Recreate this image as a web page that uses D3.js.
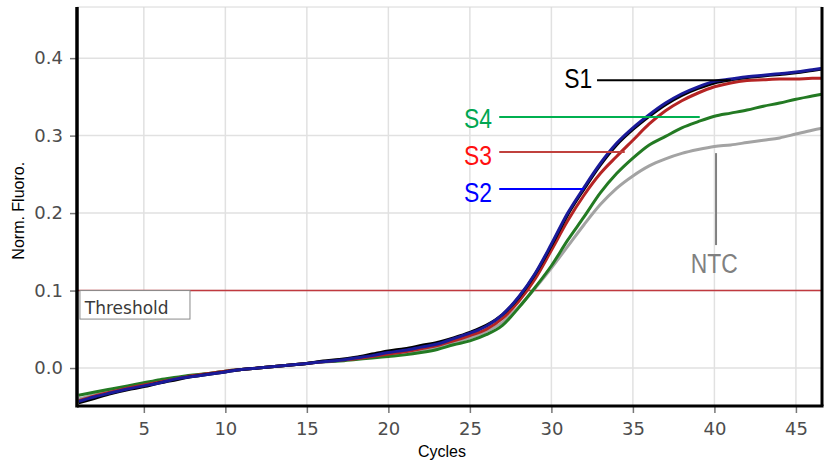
<!DOCTYPE html>
<html>
<head>
<meta charset="utf-8">
<script src="https://cdn.jsdelivr.net/npm/d3@7"></script>
<style>
  body { margin: 0; background: #fff; }
  svg { display: block; }
</style>
</head>
<body>
<svg id="chart" width="825" height="461"></svg>
<script>
// cycles
const cycles = d3.range(1, 48);

const s1 = [-0.045, -0.039, -0.033, -0.028, -0.024, -0.019, -0.015, -0.011, -0.008, -0.005,
  -0.002, 0.000, 0.002, 0.004, 0.006, 0.009, 0.011, 0.014, 0.018, 0.022,
  0.025, 0.029, 0.033, 0.039, 0.046, 0.055, 0.069, 0.091, 0.121, 0.158,
  0.198, 0.231, 0.262, 0.288, 0.308, 0.325, 0.340, 0.352, 0.361, 0.368,
  0.372, 0.375, 0.377, 0.379, 0.381, 0.384, 0.387];
const s2 = [-0.043, -0.037, -0.032, -0.027, -0.023, -0.019, -0.014, -0.011, -0.008, -0.005,
  -0.002, 0.000, 0.002, 0.004, 0.006, 0.008, 0.010, 0.013, 0.016, 0.020,
  0.023, 0.027, 0.031, 0.038, 0.045, 0.054, 0.069, 0.092, 0.122, 0.160,
  0.200, 0.233, 0.264, 0.290, 0.310, 0.327, 0.342, 0.354, 0.363, 0.370,
  0.373, 0.376, 0.378, 0.380, 0.382, 0.385, 0.388];
const s3 = [-0.042, -0.036, -0.031, -0.026, -0.022, -0.018, -0.014, -0.010, -0.007, -0.004,
  -0.002, 0.000, 0.002, 0.004, 0.006, 0.008, 0.010, 0.012, 0.015, 0.018,
  0.021, 0.025, 0.029, 0.035, 0.042, 0.050, 0.064, 0.086, 0.115, 0.152,
  0.190, 0.223, 0.251, 0.273, 0.294, 0.315, 0.332, 0.345, 0.355, 0.363,
  0.368, 0.371, 0.372, 0.373, 0.373, 0.374, 0.374];
const s4 = [-0.035, -0.031, -0.027, -0.023, -0.019, -0.015, -0.012, -0.009, -0.007, -0.004,
  -0.002, 0.000, 0.002, 0.004, 0.006, 0.008, 0.009, 0.011, 0.013, 0.015,
  0.017, 0.020, 0.024, 0.030, 0.035, 0.043, 0.055, 0.078, 0.104, 0.132,
  0.165, 0.195, 0.226, 0.251, 0.271, 0.288, 0.299, 0.310, 0.318, 0.325,
  0.329, 0.333, 0.338, 0.342, 0.347, 0.351, 0.355];
const ntc = [-0.040, -0.034, -0.029, -0.025, -0.021, -0.017, -0.013, -0.010, -0.007, -0.004,
  -0.002, 0.000, 0.002, 0.004, 0.006, 0.008, 0.010, 0.012, 0.014, 0.017,
  0.019, 0.023, 0.027, 0.033, 0.039, 0.047, 0.059, 0.079, 0.103, 0.129,
  0.157, 0.185, 0.211, 0.232, 0.248, 0.261, 0.270, 0.277, 0.282, 0.286,
  0.288, 0.291, 0.294, 0.297, 0.302, 0.307, 0.311];

const xTicks = [5, 10, 15, 20, 25, 30, 35, 40, 45];
const yTicks = [0.0, 0.1, 0.2, 0.3, 0.4];
const threshold = 0.1;

// drawn bottom to top
const series = [
  { name: "NTC", values: ntc, color: "#a3a3a3" },
  { name: "S4", values: s4, color: "#237a23" },
  { name: "S3", values: s3, color: "#b52424" },
  { name: "S1", values: s1, color: "#000000" },
  { name: "S2", values: s2, color: "#1a1a9a" },
];

// callout labels: text anchor (cycle, value) and pointer end
const callouts = [
  { name: "S1", color: "#000000", line: "#000000", tx: 32.5, ty: 0.361, lx1: 32.8, lx2: 41.0, ly: 0.3716 },
  { name: "S4", color: "#00a651", line: "#00b050", tx: 26.35, ty: 0.310, lx1: 26.8, lx2: 39.1, ly: 0.3239 },
  { name: "S3", color: "#ff1010", line: "#c0413d", tx: 26.35, ty: 0.262, lx1: 26.8, lx2: 34.5, ly: 0.2787 },
  { name: "S2", color: "#0000ff", line: "#0000ff", tx: 26.35, ty: 0.2142, lx1: 26.8, lx2: 32.0, ly: 0.231 },
];

const svg = d3.select("#chart");
const margin = { left: 77, right: 3, top: 7, bottom: 55 };
const W = 825, H = 461;

const x = d3.scaleLinear().domain([0.9, 46.6]).range([margin.left, W - margin.right]);
const y = d3.scaleLinear().domain([-0.049, 0.466]).range([H - margin.bottom, margin.top]);

const tickFont = "'DejaVu Sans', Verdana, sans-serif";
const labelFont = "'Liberation Sans', Arial, sans-serif";

svg.append("rect").attr("width", W).attr("height", H).attr("fill", "#fff");

// grid
const grid = svg.append("g");
grid.selectAll("line.v").data(xTicks).join("line")
  .attr("x1", d => x(d)).attr("x2", d => x(d))
  .attr("y1", y.range()[1]).attr("y2", y.range()[0])
  .style("stroke", "#e1e1e1").style("stroke-width", 1.5);
grid.selectAll("line.h").data(yTicks).join("line")
  .attr("x1", x.range()[0]).attr("x2", x.range()[1])
  .attr("y1", d => y(d)).attr("y2", d => y(d))
  .style("stroke", "#e1e1e1").style("stroke-width", 1.5);

// axes
const xAxis = svg.append("g")
  .attr("transform", `translate(0,${y.range()[0]})`)
  .call(d3.axisBottom(x).tickValues(xTicks).tickSize(7).tickPadding(9).tickSizeOuter(0));
const yAxis = svg.append("g")
  .attr("transform", `translate(${x.range()[0]},0)`)
  .call(d3.axisLeft(y).tickValues(yTicks).tickFormat(d3.format(".1f")).tickSize(7).tickPadding(7).tickSizeOuter(0));

[xAxis, yAxis].forEach(a => {
  a.select(".domain").remove();
  a.selectAll(".tick line").style("stroke", "#777").style("stroke-width", 1.5);
  a.selectAll(".tick text")
    .style("font-family", tickFont)
    .style("font-size", "18px")
    .style("fill", "#4d4d4d");
});

// threshold
svg.append("line")
  .attr("x1", x.range()[0]).attr("x2", x.range()[1])
  .attr("y1", y(threshold)).attr("y2", y(threshold))
  .style("stroke", "#c0393f").style("stroke-width", 1.5);

svg.append("rect")
  .attr("x", x(1.08)).attr("y", y(threshold))
  .attr("width", x(7.83) - x(1.08)).attr("height", y(0.0632) - y(threshold))
  .attr("fill", "#fff").style("stroke", "#8a8a8a").style("stroke-width", 1);
svg.append("text")
  .attr("x", x(1.38)).attr("y", y(0.0695))
  .style("font-family", tickFont).style("font-size", "17px")
  .style("fill", "#3a3a3a")
  .text("Threshold");

// curves
svg.append("clipPath").attr("id", "plot")
  .append("rect")
  .attr("x", x.range()[0]).attr("y", y.range()[1])
  .attr("width", x.range()[1] - x.range()[0]).attr("height", y.range()[0] - y.range()[1]);

const line = d3.line().x((d, i) => x(cycles[i])).y(d => y(d)).curve(d3.curveMonotoneX);

svg.append("g").attr("clip-path", "url(#plot)")
  .selectAll("path").data(series).join("path")
  .attr("d", d => line(d.values))
  .attr("fill", "none")
  .style("stroke", d => d.color)
  .style("stroke-width", 3)
  .style("stroke-linejoin", "round");

// callouts
callouts.forEach(c => {
  svg.append("line")
    .attr("x1", x(c.lx1)).attr("x2", x(c.lx2))
    .attr("y1", y(c.ly)).attr("y2", y(c.ly))
    .style("stroke", c.line).style("stroke-width", 2);
  svg.append("text")
    .attr("x", x(c.tx)).attr("y", y(c.ty))
    .attr("text-anchor", "end")
    .attr("textLength", 28).attr("lengthAdjust", "spacingAndGlyphs")
    .style("font-family", labelFont).style("font-size", "27px")
    .style("fill", c.color)
    .text(c.name);
});

// NTC callout points up at the grey curve
svg.append("line")
  .attr("x1", x(40.1)).attr("x2", x(40.1))
  .attr("y1", y(0.2774)).attr("y2", y(0.1587))
  .style("stroke", "#808080").style("stroke-width", 2);
svg.append("text")
  .attr("x", x(38.55)).attr("y", y(0.1226))
  .attr("textLength", 47).attr("lengthAdjust", "spacingAndGlyphs")
  .style("font-family", labelFont).style("font-size", "27px")
  .style("fill", "#808080")
  .text("NTC");

// frame
svg.append("line")
  .attr("x1", x.range()[0]).attr("x2", x.range()[1])
  .attr("y1", y.range()[1]).attr("y2", y.range()[1])
  .style("stroke", "#d8d8d8").style("stroke-width", 1);
svg.append("line")
  .attr("x1", x.range()[0]).attr("x2", x.range()[0])
  .attr("y1", y.range()[1]).attr("y2", y.range()[0] + 1.5)
  .style("stroke", "#000").style("stroke-width", 3.5);
svg.append("line")
  .attr("x1", x.range()[0]).attr("x2", x.range()[1] + 1.5)
  .attr("y1", y.range()[0]).attr("y2", y.range()[0])
  .style("stroke", "#000").style("stroke-width", 3);
svg.append("line")
  .attr("x1", x.range()[1]).attr("x2", x.range()[1])
  .attr("y1", y.range()[1]).attr("y2", y.range()[0])
  .style("stroke", "#000").style("stroke-width", 3);

// axis titles
svg.append("text")
  .attr("x", 442).attr("y", 457)
  .attr("text-anchor", "middle")
  .style("font-family", labelFont).style("font-size", "16px")
  .style("fill", "#000")
  .text("Cycles");
svg.append("text")
  .attr("transform", `translate(24,${y(0.203)}) rotate(-90)`)
  .attr("text-anchor", "middle")
  .style("font-family", labelFont).style("font-size", "16px")
  .style("fill", "#000")
  .text("Norm. Fluoro.");
</script>
</body>
</html>
